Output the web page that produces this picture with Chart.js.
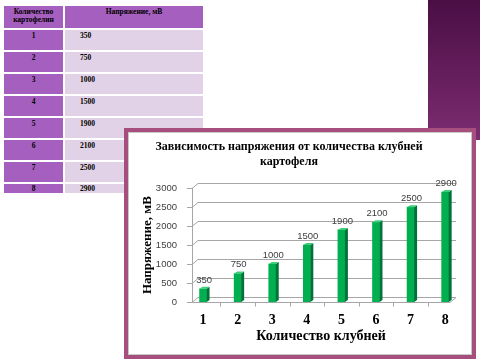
<!DOCTYPE html>
<html>
<head>
<meta charset="utf-8">
<script src="https://cdn.jsdelivr.net/npm/chart.js@4"></script>
<style>
  body { margin: 0; background: #fff; width: 480px; height: 360px; overflow: hidden; position: relative; }
  #strip { position: absolute; left: 428px; top: 0; width: 52px; height: 140px;
           background: linear-gradient(#4a0e44, #7c2c71); }
  #tbl { position: absolute; left: 2px; top: 4px; border-collapse: separate; border-spacing: 2px;
         font: bold 7.5px "Liberation Serif", serif; color: #000; }
  #tbl td { padding: 2px 0 0 0; vertical-align: top; line-height: 8px; }
  #tbl td.c1 { width: 59px; background: #a55fbe; text-align: center; }
  #tbl td.c2 { width: 123px; background: #e2d2e8; text-align: left; padding-left: 15px; }
  #tbl tr.head td { height: 20px; background: #a55fbe; text-align: center; padding-left: 0; }
  #tbl tr.row td { height: 18px; }
  #tbl tr.last td { height: 7px; padding-top: 1px; }
  #box { position: absolute; left: 124px; top: 128px; width: 344px; height: 223px;
         border: 4px solid #a64f7f; background: #fff; box-shadow: inset 0 0 0 1px #c8c8c8; }
  #box canvas { position: absolute; left: 0; top: 0; }
</style>
</head>
<body>
<div id="strip"></div>
<table id="tbl"></table>
<div id="box"><canvas id="mycanvas" width="344" height="223"></canvas></div>
<script>
var labels = ['1', '2', '3', '4', '5', '6', '7', '8'];
var voltage = [350, 750, 1000, 1500, 1900, 2100, 2500, 2900];
var chartTitle = ['Зависимость напряжения от количества клубней', 'картофеля'];
var xTitle = 'Количество клубней';
var yTitle = 'Напряжение, мВ';
var tableHead = ['Количество картофелин', 'Напряжение, мВ'];

// table on the slide, built from the same arrays
var tbl = document.getElementById('tbl');
var html = '<tr class="head"><td class="c1">' + tableHead[0] + '</td><td class="c2">' + tableHead[1] + '</td></tr>';
for (var i = 0; i < labels.length; i++) {
  var cls = i == labels.length - 1 ? 'last' : 'row';
  html += '<tr class="' + cls + '"><td class="c1">' + labels[i] + '</td><td class="c2">' + voltage[i] + '</td></tr>';
}
tbl.innerHTML = html;

var points = [];
for (var i = 0; i < labels.length; i++) {
  points.push({x: i + 1, y: voltage[i]});
}

var DX = 6, DY = 5;   // depth of the back wall
var BX = 3, BY = 2;   // depth of each bar

// back wall, grid and floor drawn like the 3D chart
var wallPlugin = {
  id: 'wall',
  beforeDatasetsDraw: function(chart) {
    var ctx = chart.ctx, a = chart.chartArea;
    var ys = chart.scales.y, xs = chart.scales.x;
    ctx.save();
    ctx.strokeStyle = '#a6a6a6';
    ctx.lineWidth = 1;
    ys.ticks.forEach(function(t) {
      var y = Math.round(ys.getPixelForValue(t.value)) + 0.5;
      ctx.beginPath();
      ctx.moveTo(a.left - 5, y);
      ctx.lineTo(a.left, y);
      ctx.lineTo(a.left + DX, y - DY);
      ctx.lineTo(a.right + DX, y - DY);
      ctx.stroke();
    });
    var y0 = Math.round(ys.getPixelForValue(0)) + 0.5;
    ctx.beginPath();
    ctx.moveTo(a.left + 0.5, Math.round(ys.getPixelForValue(3000)));
    ctx.lineTo(a.left + 0.5, y0);
    ctx.lineTo(a.right, y0);
    ctx.lineTo(a.right + DX, y0 - DY);
    ctx.stroke();
    for (var k = 0; k <= labels.length; k++) {
      var x = Math.round(xs.getPixelForValue(k + 0.5)) + 0.5;
      if (x < a.left || x > a.right) continue;
      ctx.beginPath();
      ctx.moveTo(x, y0);
      ctx.lineTo(x, y0 + 4);
      ctx.stroke();
    }
    ctx.restore();
  }
};

// side and top faces of the bars plus value labels
var barPlugin = {
  id: 'bars3d',
  afterDatasetsDraw: function(chart) {
    var ctx = chart.ctx;
    var meta = chart.getDatasetMeta(0);
    ctx.save();
    meta.data.forEach(function(bar, i) {
      var p = bar.getProps(['x', 'y', 'base', 'width'], true);
      var r = p.x + p.width / 2, l = p.x - p.width / 2;
      ctx.fillStyle = '#00733a';
      ctx.beginPath();
      ctx.moveTo(r, p.y);
      ctx.lineTo(r + BX, p.y - BY);
      ctx.lineTo(r + BX, p.base - BY);
      ctx.lineTo(r, p.base);
      ctx.closePath();
      ctx.fill();
      ctx.fillStyle = '#3ccf78';
      ctx.beginPath();
      ctx.moveTo(l, p.y);
      ctx.lineTo(l + BX, p.y - BY);
      ctx.lineTo(r + BX, p.y - BY);
      ctx.lineTo(r, p.y);
      ctx.closePath();
      ctx.fill();
      ctx.fillStyle = '#404040';
      ctx.font = '9.5px "Liberation Sans", sans-serif';
      ctx.textAlign = 'center';
      ctx.textBaseline = 'bottom';
      ctx.fillText(String(voltage[i]), p.x + 1, p.y - 4);
    });
    ctx.restore();
  }
};

var chartdata = {
  datasets: [
    {
      label: yTitle,
      data: points,
      backgroundColor: '#00b050',
      borderWidth: 0,
      barThickness: 7
    }
  ]
};

var ctx = document.getElementById('mycanvas');

var BarGraph = new Chart(ctx, {
  type: 'bar',
  data: chartdata,
  plugins: [wallPlugin, barPlugin],
  options: {
    responsive: false,
    animation: false,
    layout: { padding: { left: 0, right: 22, top: 0, bottom: 0 } },
    plugins: {
      legend: { display: false },
      tooltip: { enabled: false },
      title: {
        display: true,
        text: chartTitle,
        color: '#000',
        font: { family: '"Liberation Serif", serif', size: 12, weight: 'bold', lineHeight: 1.3 },
        padding: { top: 7, bottom: 18 }
      }
    },
    scales: {
      x: {
        type: 'linear',
        offset: false,
        min: 0.68,
        max: 8.14,
        afterBuildTicks: function(scale) {
          scale.ticks = labels.map(function(l, i) { return {value: i + 1}; });
        },
        afterFit: function(scale) { scale.height = 53; },
        grid: { display: false },
        border: { display: false },
        ticks: {
          padding: 2,
          color: '#000',
          font: { family: '"Liberation Serif", serif', size: 14, weight: 'bold' },
          callback: function(v) { return labels[Math.round(v) - 1]; }
        },
        title: {
          display: true,
          text: xTitle,
          color: '#000',
          font: { family: '"Liberation Serif", serif', size: 14, weight: 'bold', lineHeight: 1.2 },
          padding: { top: 0, bottom: 10 }
        }
      },
      y: {
        min: 0,
        max: 3000,
        afterFit: function(scale) { scale.width = 64; },
        grid: { display: false },
        border: { display: false },
        ticks: {
          stepSize: 500,
          padding: 7,
          color: '#404040',
          font: { family: '"Liberation Sans", sans-serif', size: 9.5 },
          callback: function(v) { return String(v); }
        },
        title: {
          display: true,
          text: yTitle,
          color: '#000',
          font: { family: '"Liberation Serif", serif', size: 13, weight: 'bold', lineHeight: 1.2 },
          padding: { top: 12, bottom: 0 }
        }
      }
    }
  }
});
</script>
</body>
</html>
